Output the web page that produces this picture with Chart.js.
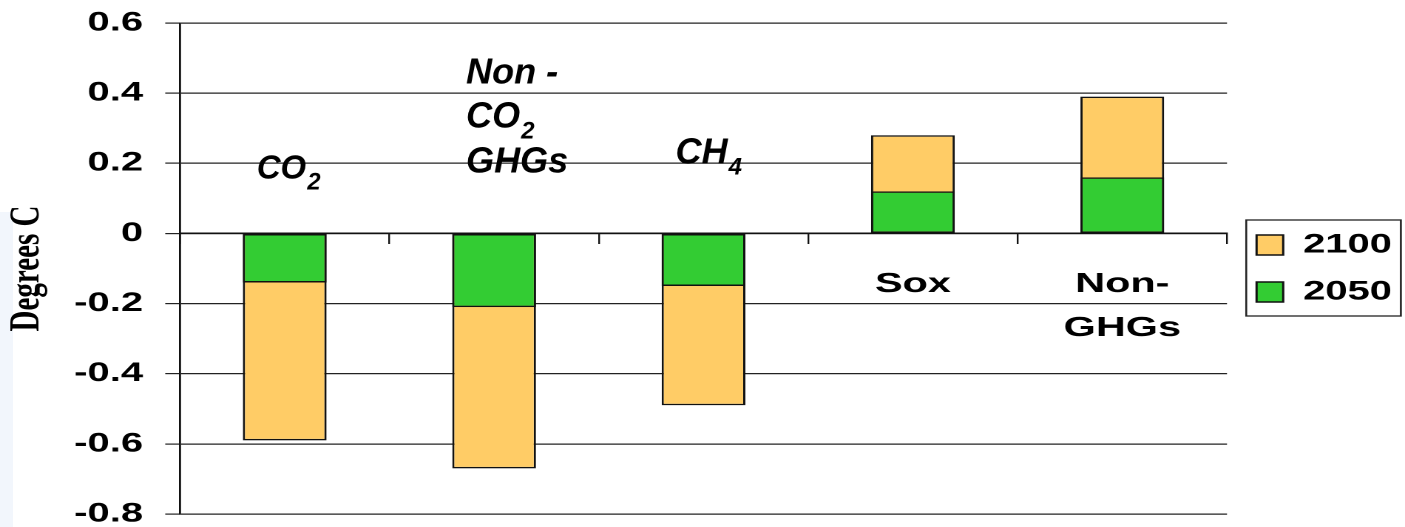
<!DOCTYPE html>
<html>
<head>
<meta charset="utf-8">
<script src="https://cdn.jsdelivr.net/npm/chart.js@4/dist/chart.umd.min.js"></script>
<style>
  html, body { margin: 0; padding: 0; background: #fff; overflow: hidden; }
  #strip { position: absolute; left: 0; top: 212px; width: 13px; height: 315px; background: #f2f6fc; }
  #wrap { position: absolute; left: 0; top: 0; width: 950px; height: 527px; transform: scaleX(1.478947); transform-origin: 0 0; }
</style>
</head>
<body>
<div id="strip"></div>
<div id="wrap"><canvas id="chart"></canvas></div>
<script>
// the slide was stretched sideways, so the chart is drawn narrow and scaled up
const STRETCH = 1405 / 950;

const categories = ['CO2', 'Non - CO2 GHGs', 'CH4', 'Sox', 'Non-GHGs'];
const axisLabels = ['', '', '', 'Sox', ['Non-', 'GHGs']];
const seriesNames = ['2050', '2100'];
const values2050 = [-0.14, -0.21, -0.15, 0.12, 0.16];
const values2100 = [-0.59, -0.67, -0.49, 0.28, 0.39];
const yTicks = [-0.8, -0.6, -0.4, -0.2, 0, 0.2, 0.4, 0.6];
const yTickLabels = ['-0.8', '-0.6', '-0.4', '-0.2', '0', '0.2', '0.4', '0.6'];

// italic text boxes that sit on the slide (not stretched)
const textBoxes = [
    { cat: 0, size: 33, lines: [{ y: 0.157, text: 'CO', sub: '2' }] },
    { cat: 1, size: 36, lines: [
        { y: 0.427, text: 'Non -' },
        { y: 0.302, text: 'CO', sub: '2' },
        { y: 0.174, text: 'GHGs' }
    ] },
    { cat: 2, size: 36, lines: [{ y: 0.199, text: 'CH', sub: '4' }] }
];

const textBoxPlugin = {
    id: 'textBoxes',
    afterDraw(chart) {
        const ctx = chart.ctx;
        const x = chart.scales.x;
        const y = chart.scales.y;
        ctx.save();
        ctx.scale(1 / STRETCH, 1);
        ctx.fillStyle = '#000';
        ctx.textBaseline = 'alphabetic';
        ctx.textAlign = 'left';
        textBoxes.forEach(box => {
            const left = x.getPixelForValue(box.cat) * STRETCH - 28;
            box.lines.forEach(line => {
                const py = y.getPixelForValue(line.y);
                ctx.font = 'italic bold ' + box.size + 'px "Liberation Sans", Arial, sans-serif';
                ctx.fillText(line.text, left, py);
                if (line.sub) {
                    const w = ctx.measureText(line.text).width;
                    ctx.font = 'italic bold 24px "Liberation Sans", Arial, sans-serif';
                    ctx.fillText(line.sub, left + w + 1, py + 11);
                }
            });
        });
        ctx.restore();
    }
};

const legendBorderPlugin = {
    id: 'legendBorder',
    afterDraw(chart) {
        const boxes = chart.legend && chart.legend.legendHitBoxes;
        if (!boxes || !boxes.length) return;
        const first = boxes[0];
        const last = boxes[boxes.length - 1];
        const ctx = chart.ctx;
        ctx.save();
        ctx.strokeStyle = '#222';
        ctx.lineWidth = 1.3;
        ctx.strokeRect(first.left - 7, first.top - 11.5, first.width + 13, last.top + last.height - first.top + 22);
        ctx.restore();
    }
};

const chart = new Chart(document.getElementById('chart'), {
    type: 'bar',
    data: {
        labels: categories,
        datasets: [
            {
                label: seriesNames[0],
                data: values2050,
                backgroundColor: '#33cc33',
                borderColor: '#111',
                borderWidth: 1.5,
                borderSkipped: false,
                grouped: false,
                barPercentage: 0.4,
                categoryPercentage: 1
            },
            {
                label: seriesNames[1],
                data: values2100,
                backgroundColor: '#ffcc66',
                borderColor: '#111',
                borderWidth: 1.5,
                borderSkipped: false,
                grouped: false,
                barPercentage: 0.4,
                categoryPercentage: 1
            }
        ]
    },
    options: {
        responsive: true,
        maintainAspectRatio: false,
        animation: false,
        devicePixelRatio: 2,
        layout: { padding: { top: 23, bottom: 13, left: 0, right: -1.2 } },
        scales: {
            x: {
                position: { y: 0 },
                grid: { drawOnChartArea: false, drawTicks: true, tickLength: 10, color: '#111', lineWidth: 1.2 },
                border: { display: true, color: '#111', width: 1.5 },
                ticks: {
                    autoSkip: false,
                    maxRotation: 0,
                    padding: 19,
                    color: '#000',
                    font: { family: '"Liberation Sans", Arial, sans-serif', weight: 'bold', size: 28, lineHeight: 1.57 },
                    callback: (v, i) => axisLabels[i]
                }
            },
            y: {
                min: -0.8,
                max: 0.6,
                afterBuildTicks: s => { s.ticks = yTicks.map(v => ({ value: v })); },
                afterFit: s => {
                    s.width = 180 / STRETCH;
                    s.paddingTop = 0;
                    s.paddingBottom = 0;
                },
                grid: { color: '#222', lineWidth: 1.2, tickLength: 10 },
                border: { display: true, color: '#111', width: 1.4 },
                ticks: {
                    padding: 15,
                    color: '#000',
                    font: { family: '"Liberation Sans", Arial, sans-serif', weight: 'bold', size: 27 },
                    callback: v => yTickLabels[yTicks.indexOf(v)]
                },
                title: {
                    display: true,
                    text: 'Degrees C',
                    color: '#000',
                    padding: { top: 0.9, bottom: 0 },
                    font: { family: '"Liberation Serif", "Times New Roman", serif', weight: 'bold', size: 29 }
                }
            }
        },
        plugins: {
            tooltip: { enabled: false },
            legend: {
                position: 'right',
                reverse: true,
                labels: {
                    boxWidth: 18,
                    boxHeight: 20,
                    padding: 20,
                    color: '#000',
                    font: { family: '"Liberation Sans", Arial, sans-serif', weight: 'bold', size: 27 }
                }
            }
        }
    },
    plugins: [textBoxPlugin, legendBorderPlugin]
});
</script>
</body>
</html>
